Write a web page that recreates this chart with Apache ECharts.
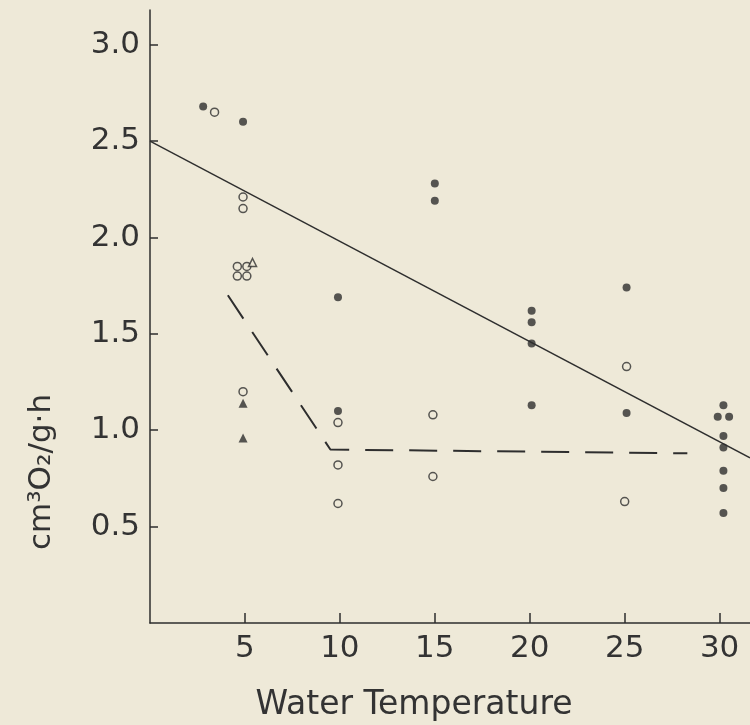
<!DOCTYPE html>
<html>
<head>
<meta charset="utf-8">
<script src="https://cdn.jsdelivr.net/npm/echarts@6/dist/echarts.min.js"></script>
<style>
  html, body { margin: 0; padding: 0; background: #eee9d8; }
  #chart { width: 750px; height: 725px; }
</style>
</head>
<body>
<div id="chart"></div>
<script>
// x: water temperature (C), y: cm3 O2 / g h
var filledDots = [[2.8,2.68],[4.9,2.60],[9.9,1.69],[9.9,1.10],[15,2.28],[15,2.19],
	[20.1,1.62],[20.1,1.56],[20.1,1.45],[20.1,1.13],[25.1,1.74],[25.1,1.09],
	[30.2,1.13],[29.9,1.07],[30.5,1.07],[30.2,0.97],[30.2,0.91],[30.2,0.79],[30.2,0.70],[30.2,0.57]];
var openDots = [[3.4,2.65],[4.9,2.21],[4.9,2.15],[4.6,1.85],[4.6,1.80],[5.1,1.85],[5.1,1.80],
	[4.9,1.20],[9.9,1.04],[9.9,0.82],[9.9,0.62],[14.9,1.08],[14.9,0.76],[25.1,1.33],[25,0.63]];
var openTriangles = [[5.4,1.87]];
var filledTriangles = [[4.9,1.14],[4.9,0.96]];
var fitLine = [[0,2.50],[31.6,0.857]];
var dashedLine = [[4.1,1.70],[9.5,0.90],[28.3,0.88]];
var xTicks = [5, 10, 15, 20, 25, 30];
var yTicks = [0.5, 1.0, 1.5, 2.0, 2.5, 3.0];

var ink = '#2e2e2e';
var bg = '#eee9d8';
var fontFam = 'DejaVu Sans';

var myChart = echarts.init(document.getElementById('chart'));
var option = {
	backgroundColor: bg,
	animation: false,
	grid: { left: 150, right: 0, top: 10, bottom: 102 },
	xAxis: {
		type: 'value', min: 0, max: 31.6,
		axisLine: { show: true, lineStyle: { color: ink, width: 1.5 } },
		axisTick: { show: true, inside: true, length: 10, customValues: xTicks,
			lineStyle: { color: ink, width: 1.5 } },
		splitLine: { show: false },
		axisLabel: {
			margin: 10, color: '#333', fontSize: 31, fontFamily: fontFam,
			customValues: xTicks,
			formatter: function (v) { return String(v); }
		}
	},
	yAxis: {
		type: 'value', min: 0, max: 3.18,
		axisLine: { show: true, lineStyle: { color: ink, width: 1.5 } },
		axisTick: { show: true, inside: true, length: 8, customValues: yTicks,
			lineStyle: { color: ink, width: 1.5 } },
		splitLine: { show: false },
		axisLabel: {
			margin: 10, color: '#333', fontSize: 31, fontFamily: fontFam,
			customValues: yTicks,
			formatter: function (v) { return v.toFixed(1); }
		}
	},
	graphic: [
		{ type: 'text', x: 42, y: 472, rotation: Math.PI / 2,
		  style: { text: 'cm³O₂/g·h', fontSize: 31, fontFamily: fontFam, fill: '#333',
		           align: 'center', verticalAlign: 'middle' } },
		{ type: 'text', x: 414, y: 705,
		  style: { text: 'Water Temperature', fontSize: 33, fontFamily: fontFam, fill: '#333',
		           align: 'center', verticalAlign: 'middle' } }
	],
	series: [
		{
			type: 'line', data: fitLine, symbol: 'none',
			lineStyle: { color: ink, width: 1.4 }
		},
		{
			type: 'line', data: dashedLine, symbol: 'none',
			lineStyle: { color: ink, width: 2, type: [28, 16] }
		},
		{
			type: 'scatter', data: filledDots, symbol: 'circle', symbolSize: 8,
			itemStyle: { color: ink }
		},
		{
			type: 'scatter', data: openDots, symbol: 'circle', symbolSize: 8,
			itemStyle: { color: bg, borderColor: ink, borderWidth: 1.5 }
		},
		{
			type: 'scatter', data: openTriangles, symbol: 'triangle', symbolSize: 8,
			itemStyle: { color: bg, borderColor: ink, borderWidth: 1.5 }
		},
		{
			type: 'scatter', data: filledTriangles, symbol: 'triangle', symbolSize: 9,
			itemStyle: { color: ink }
		}
	]
};
myChart.setOption(option);
</script>
</body>
</html>
